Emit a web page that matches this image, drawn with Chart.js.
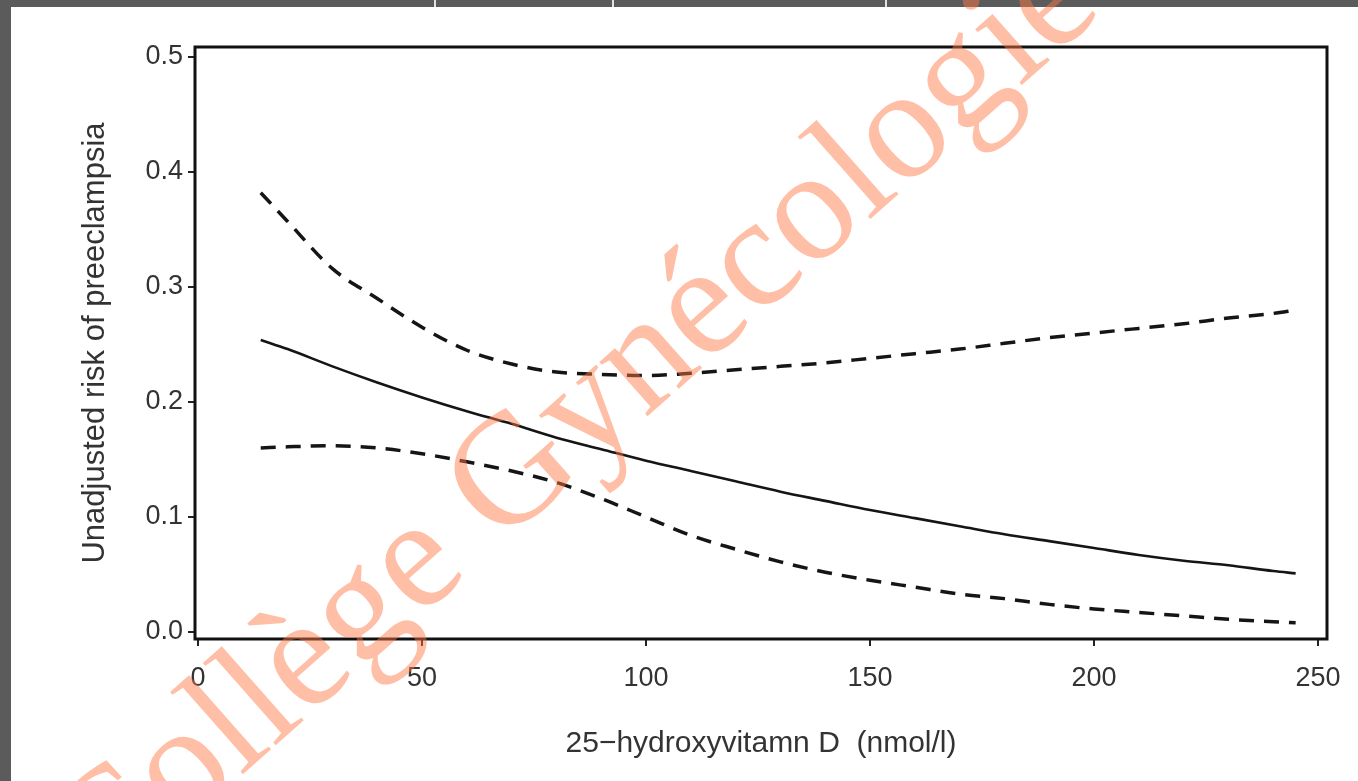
<!DOCTYPE html>
<html>
<head>
<meta charset="utf-8">
<script src="https://cdn.jsdelivr.net/npm/chart.js@4/dist/chart.umd.min.js"></script>
<style>
  html, body { margin: 0; padding: 0; background: #fff; overflow: hidden; }
  canvas { display: block; }
</style>
</head>
<body>
<canvas id="risk-chart" width="1358" height="781"></canvas>
<script>
// 25-hydroxyvitamin D vs unadjusted risk of preeclampsia

const vitD = [14, 20, 30, 40, 50, 60, 70, 80, 90, 100, 110, 120, 130, 140, 150, 160, 170, 180, 190, 200, 210, 220, 230, 240, 245];
const riskFit = [0.254, 0.246, 0.231, 0.217, 0.204, 0.192, 0.181, 0.169, 0.159, 0.149, 0.140, 0.131, 0.122, 0.114, 0.106, 0.099, 0.092, 0.085, 0.079, 0.073, 0.067, 0.062, 0.058, 0.053, 0.051];
const riskUpper = [0.382, 0.357, 0.316, 0.290, 0.265, 0.245, 0.233, 0.226, 0.224, 0.223, 0.225, 0.228, 0.231, 0.234, 0.238, 0.242, 0.246, 0.251, 0.256, 0.260, 0.264, 0.268, 0.273, 0.277, 0.280];
const riskLower = [0.160, 0.161, 0.162, 0.160, 0.155, 0.148, 0.140, 0.130, 0.116, 0.100, 0.084, 0.072, 0.061, 0.052, 0.045, 0.039, 0.033, 0.029, 0.024, 0.020, 0.017, 0.014, 0.011, 0.009, 0.008];

const xTicks = [0, 50, 100, 150, 200, 250];
const yTicks = [0, 0.1, 0.2, 0.3, 0.4, 0.5];

const FONT = "'Liberation Sans', Arial, sans-serif";

const pts = ys => vitD.map((x, i) => ({ x, y: ys[i] }));

const pageBackground = {
  id: 'pageBackground',
  beforeDraw(chart) {
    const ctx = chart.ctx;
    ctx.save();
    ctx.fillStyle = '#ffffff';
    ctx.fillRect(0, 0, chart.width, chart.height);
    ctx.restore();
  },
  afterDraw(chart) {
    const ctx = chart.ctx;
    ctx.save();
    ctx.fillStyle = '#5b5b5b';
    ctx.fillRect(0, 0, chart.width, 7);
    ctx.fillRect(0, 0, 11, chart.height);
    ctx.fillStyle = '#e2e2e2';
    [434, 612, 885].forEach(x => ctx.fillRect(x, 0, 2, 7));
    ctx.restore();
  }
};

const plotFrame = {
  id: 'plotFrame',
  afterDatasetsDraw(chart) {
    const { ctx, chartArea: a } = chart;
    ctx.save();
    ctx.strokeStyle = '#111';
    ctx.lineWidth = 3;
    ctx.strokeRect(a.left, a.top, a.right - a.left, a.bottom - a.top);
    ctx.restore();
  }
};

const watermark = {
  id: 'watermark',
  afterDraw(chart) {
    const ctx = chart.ctx;
    ctx.save();
    ctx.translate(576, 424);
    ctx.rotate(-41.5 * Math.PI / 180);
    ctx.font = "158px 'Liberation Serif', 'Times New Roman', serif";
    ctx.textAlign = 'center';
    ctx.textBaseline = 'middle';
    ctx.fillStyle = 'rgba(255, 120, 70, 0.48)';
    ctx.fillText('Collège Gynécologie', 0, 0);
    ctx.restore();
  }
};

function lineSet(label, ys, dashed) {
  return {
    label,
    data: pts(ys),
    borderColor: '#151515',
    borderWidth: dashed ? 3.5 : 2.6,
    borderDash: dashed ? [15, 10] : [],
    pointRadius: 0,
    fill: false,
    cubicInterpolationMode: 'monotone'
  };
}

new Chart(document.getElementById('risk-chart').getContext('2d'), {
  type: 'line',
  data: {
    datasets: [
      lineSet('Upper limit', riskUpper, true),
      lineSet('Risk', riskFit, false),
      lineSet('Lower limit', riskLower, true)
    ]
  },
  options: {
    responsive: false,
    animation: false,
    devicePixelRatio: 1,
    layout: { padding: { left: 60, top: 47, right: 31, bottom: 0 } },
    plugins: { legend: { display: false }, tooltip: { enabled: false } },
    scales: {
      x: {
        type: 'linear',
        min: -0.67,
        max: 252,
        afterBuildTicks: s => { s.ticks = xTicks.map(v => ({ value: v })); },
        afterFit: s => { s.height = 142; },
        grid: { drawOnChartArea: false, drawTicks: true, tickLength: 7, color: '#222', lineWidth: 2 },
        border: { display: false },
        ticks: { font: { family: FONT, size: 27 }, color: '#333', padding: 16, maxRotation: 0, callback: v => String(v) },
        title: { display: true, text: '25−hydroxyvitamn D  (nmol/l)', font: { family: FONT, size: 30 }, color: '#333', padding: { bottom: 19 } }
      },
      y: {
        min: -0.0061,
        max: 0.5087,
        afterBuildTicks: s => { s.ticks = yTicks.map(v => ({ value: v })); },
        afterFit: s => { s.width = 135; },
        grid: { drawOnChartArea: false, drawTicks: true, tickLength: 7, color: '#222', lineWidth: 2 },
        border: { display: false },
        ticks: { font: { family: FONT, size: 27 }, color: '#333', padding: 5, callback: v => v.toFixed(1) },
        title: { display: true, text: 'Unadjusted risk of preeclampsia', font: { family: FONT, size: 31 }, color: '#333', padding: { top: 17 } }
      }
    }
  },
  plugins: [pageBackground, plotFrame, watermark]
});
</script>
</body>
</html>
